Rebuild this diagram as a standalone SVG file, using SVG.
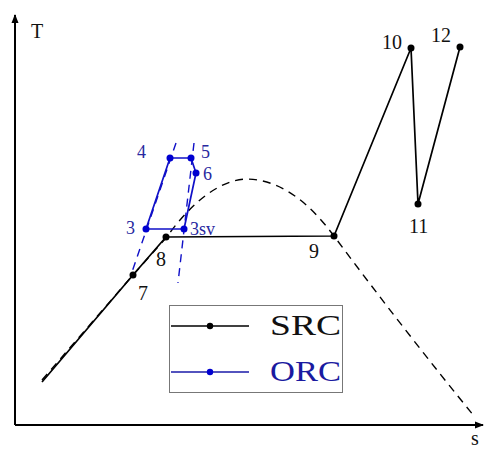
<svg xmlns="http://www.w3.org/2000/svg" width="484" height="449" viewBox="0 0 484 449">
<style>
.src{fill:none;stroke:#000;stroke-width:1.7;stroke-linejoin:round}
.orc{fill:none;stroke:#1010c8;stroke-width:1.7;stroke-linejoin:round}
.dome{fill:none;stroke:#000;stroke-width:1.4;stroke-dasharray:8 6}
.bdash{fill:none;stroke:#1010c8;stroke-width:1.4;stroke-dasharray:8 6}
.axis{fill:none;stroke:#000;stroke-width:2}
.bp{fill:#0000d0}
.kp{fill:#000}
.kt{font-family:"Liberation Serif",serif;font-size:20px;fill:#111}
.bt{font-family:"Liberation Serif",serif;font-size:18px;fill:#2828a0}
.lt{font-family:"Liberation Serif",serif;font-size:29px}
</style>
<defs>
<marker id="ah" markerWidth="10" markerHeight="10" refX="8" refY="5" orient="auto" markerUnits="userSpaceOnUse">
<path d="M0,1.5 L9,5 L0,8.5 Z" fill="#000"/>
</marker>
</defs>
<g id="axes">
<path class="axis" d="M15,425 L15,15" marker-end="url(#ah)"/>
<path class="axis" d="M15,425 L483,425" marker-end="url(#ah)"/>
<text class="kt" x="31" y="38">T</text>
<text class="kt" x="471" y="445">s</text>
</g>
<g id="connectors">
<path class="dome" d="M42,380 L133,275 L166,238 C186,210 215,180 247,179 C285,180 313,208 334,236 C380,298 430,362 474,416"/>
<path class="src" d="M42,382 L133,275 L166,237 L334,236 L411,48 L418,204 L460,47"/>
<path class="bdash" d="M176,143 L131,275"/>
<path class="bdash" d="M194,143 L178,283"/>
<path class="orc" d="M146,229 L170,158 L191,158 L196,173 L184,229 Z"/>
</g>
<g id="p7"><circle class="kp" cx="133" cy="275" r="3.5"/><text class="kt" x="138" y="300">7</text></g>
<g id="p8"><circle class="kp" cx="166" cy="237" r="3.5"/><text class="kt" x="156" y="266">8</text></g>
<g id="p9"><circle class="kp" cx="334" cy="236" r="3.5"/><text class="kt" x="309" y="258">9</text></g>
<g id="p10"><circle class="kp" cx="411" cy="48" r="3.5"/><text class="kt" x="382" y="49">10</text></g>
<g id="p11"><circle class="kp" cx="418" cy="204" r="3.5"/><text class="kt" x="409" y="233">11</text></g>
<g id="p12"><circle class="kp" cx="460" cy="47" r="3.5"/><text class="kt" x="431" y="42">12</text></g>
<g id="p3"><circle class="bp" cx="146" cy="229" r="3.5"/><text class="bt" x="126" y="234">3</text></g>
<g id="p3sv"><circle class="bp" cx="184" cy="229" r="3.5"/><text class="bt" x="190" y="235">3sv</text></g>
<g id="p4"><circle class="bp" cx="170" cy="158" r="3.5"/><text class="bt" x="137" y="158">4</text></g>
<g id="p5"><circle class="bp" cx="191" cy="158" r="3.5"/><text class="bt" x="201" y="158">5</text></g>
<g id="p6"><circle class="bp" cx="196" cy="173" r="3.5"/><text class="bt" x="203" y="180">6</text></g>
<g id="legend">
<rect x="169.5" y="305.5" width="173" height="87" fill="#fff" stroke="#777" stroke-width="1"/>
<path class="src" d="M171,326 L249,326"/>
<circle class="kp" cx="210" cy="326" r="3.2"/>
<text class="lt" x="270" y="335" fill="#111" textLength="71" lengthAdjust="spacingAndGlyphs">SRC</text>
<path d="M171,372 L249,372" fill="none" stroke="#1a1aa8" stroke-width="1.4"/>
<circle class="bp" cx="210" cy="372" r="3.2"/>
<text class="lt" x="270" y="381" fill="#1a1aa0" textLength="71" lengthAdjust="spacingAndGlyphs">ORC</text>
</g>
</svg>
